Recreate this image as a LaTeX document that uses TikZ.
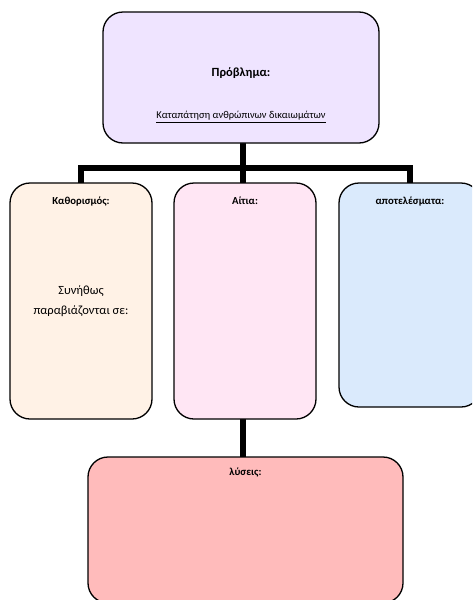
\documentclass[tikz,border=0pt]{standalone}
\usepackage{fontspec}
\setmainfont{Carlito}
\usetikzlibrary{positioning}

\definecolor{probfill}{HTML}{EFE4FF}
\definecolor{deffill}{HTML}{FFF2E6}
\definecolor{causefill}{HTML}{FFE6F4}
\definecolor{resfill}{HTML}{DAEAFC}
\definecolor{solfill}{HTML}{FFBBBB}

\begin{document}
\begin{tikzpicture}[x=1pt,y=-1pt,
    box/.style={draw=black, line width=1.3pt, rounded corners=20pt, inner sep=0pt},
    col/.style={box, minimum width=142pt, minimum height=236pt},
    head/.style={font=\bfseries\fontsize{10.7}{12}\selectfont},
    conn/.style={line width=5.5pt}]
        % Fix the page to the reference size
        \useasboundingbox (0,0) rectangle (472,600);
        \clip (0,0) rectangle (472,600);

        % Connectors first, boxes drawn on top
        \coordinate (split) at (243,168);
        \coordinate (probfoot) at (243,143);
        \coordinate (deftop) at (81,183);
        \coordinate (restop) at (410,183);
        \draw[conn] (deftop) |- (split) -| (restop);
        \draw[conn] (probfoot) -- (243,420) -- (243,457);

        % The problem at the top
        \node[box, fill=probfill, minimum width=276pt, minimum height=131pt] (prob) at (241,77.5) {};
        \node[head, font=\bfseries\fontsize{12.5}{14}\selectfont] (probtitle) at (241,73) {Πρόβλημα:};
        \node[font=\fontsize{10.5}{12}\selectfont] (probtext) at (241,117) {\underline{Καταπάτηση ανθρώπινων δικαιωμάτων}};

        % The three columns
        \node[col, fill=deffill] (def) at (81,301) {};
        \node[col, fill=causefill] (cause) at (245,301) {};
        \node[col, fill=resfill, minimum height=224pt] (res) at (410,295) {};
        \node[head, below=11pt of def.north] (deftitle) {Καθορισμός:};
        \node[head, below=11pt of cause.north] (causetitle) {Αίτια:};
        \node[head, below=11pt of res.north] (restitle) {αποτελέσματα:};
        \node[align=center, font=\fontsize{12.5}{20}\selectfont] (deftext) at (def.center) {Συνήθως\\παραβιάζονται σε:};

        % The solutions at the bottom
        \node[box, fill=solfill, minimum width=315pt, minimum height=146pt] (sol) at (245.5,530) {};
        \node[head, below=8pt of sol.north] (soltitle) {λύσεις:};
    \end{tikzpicture}
\end{document}
